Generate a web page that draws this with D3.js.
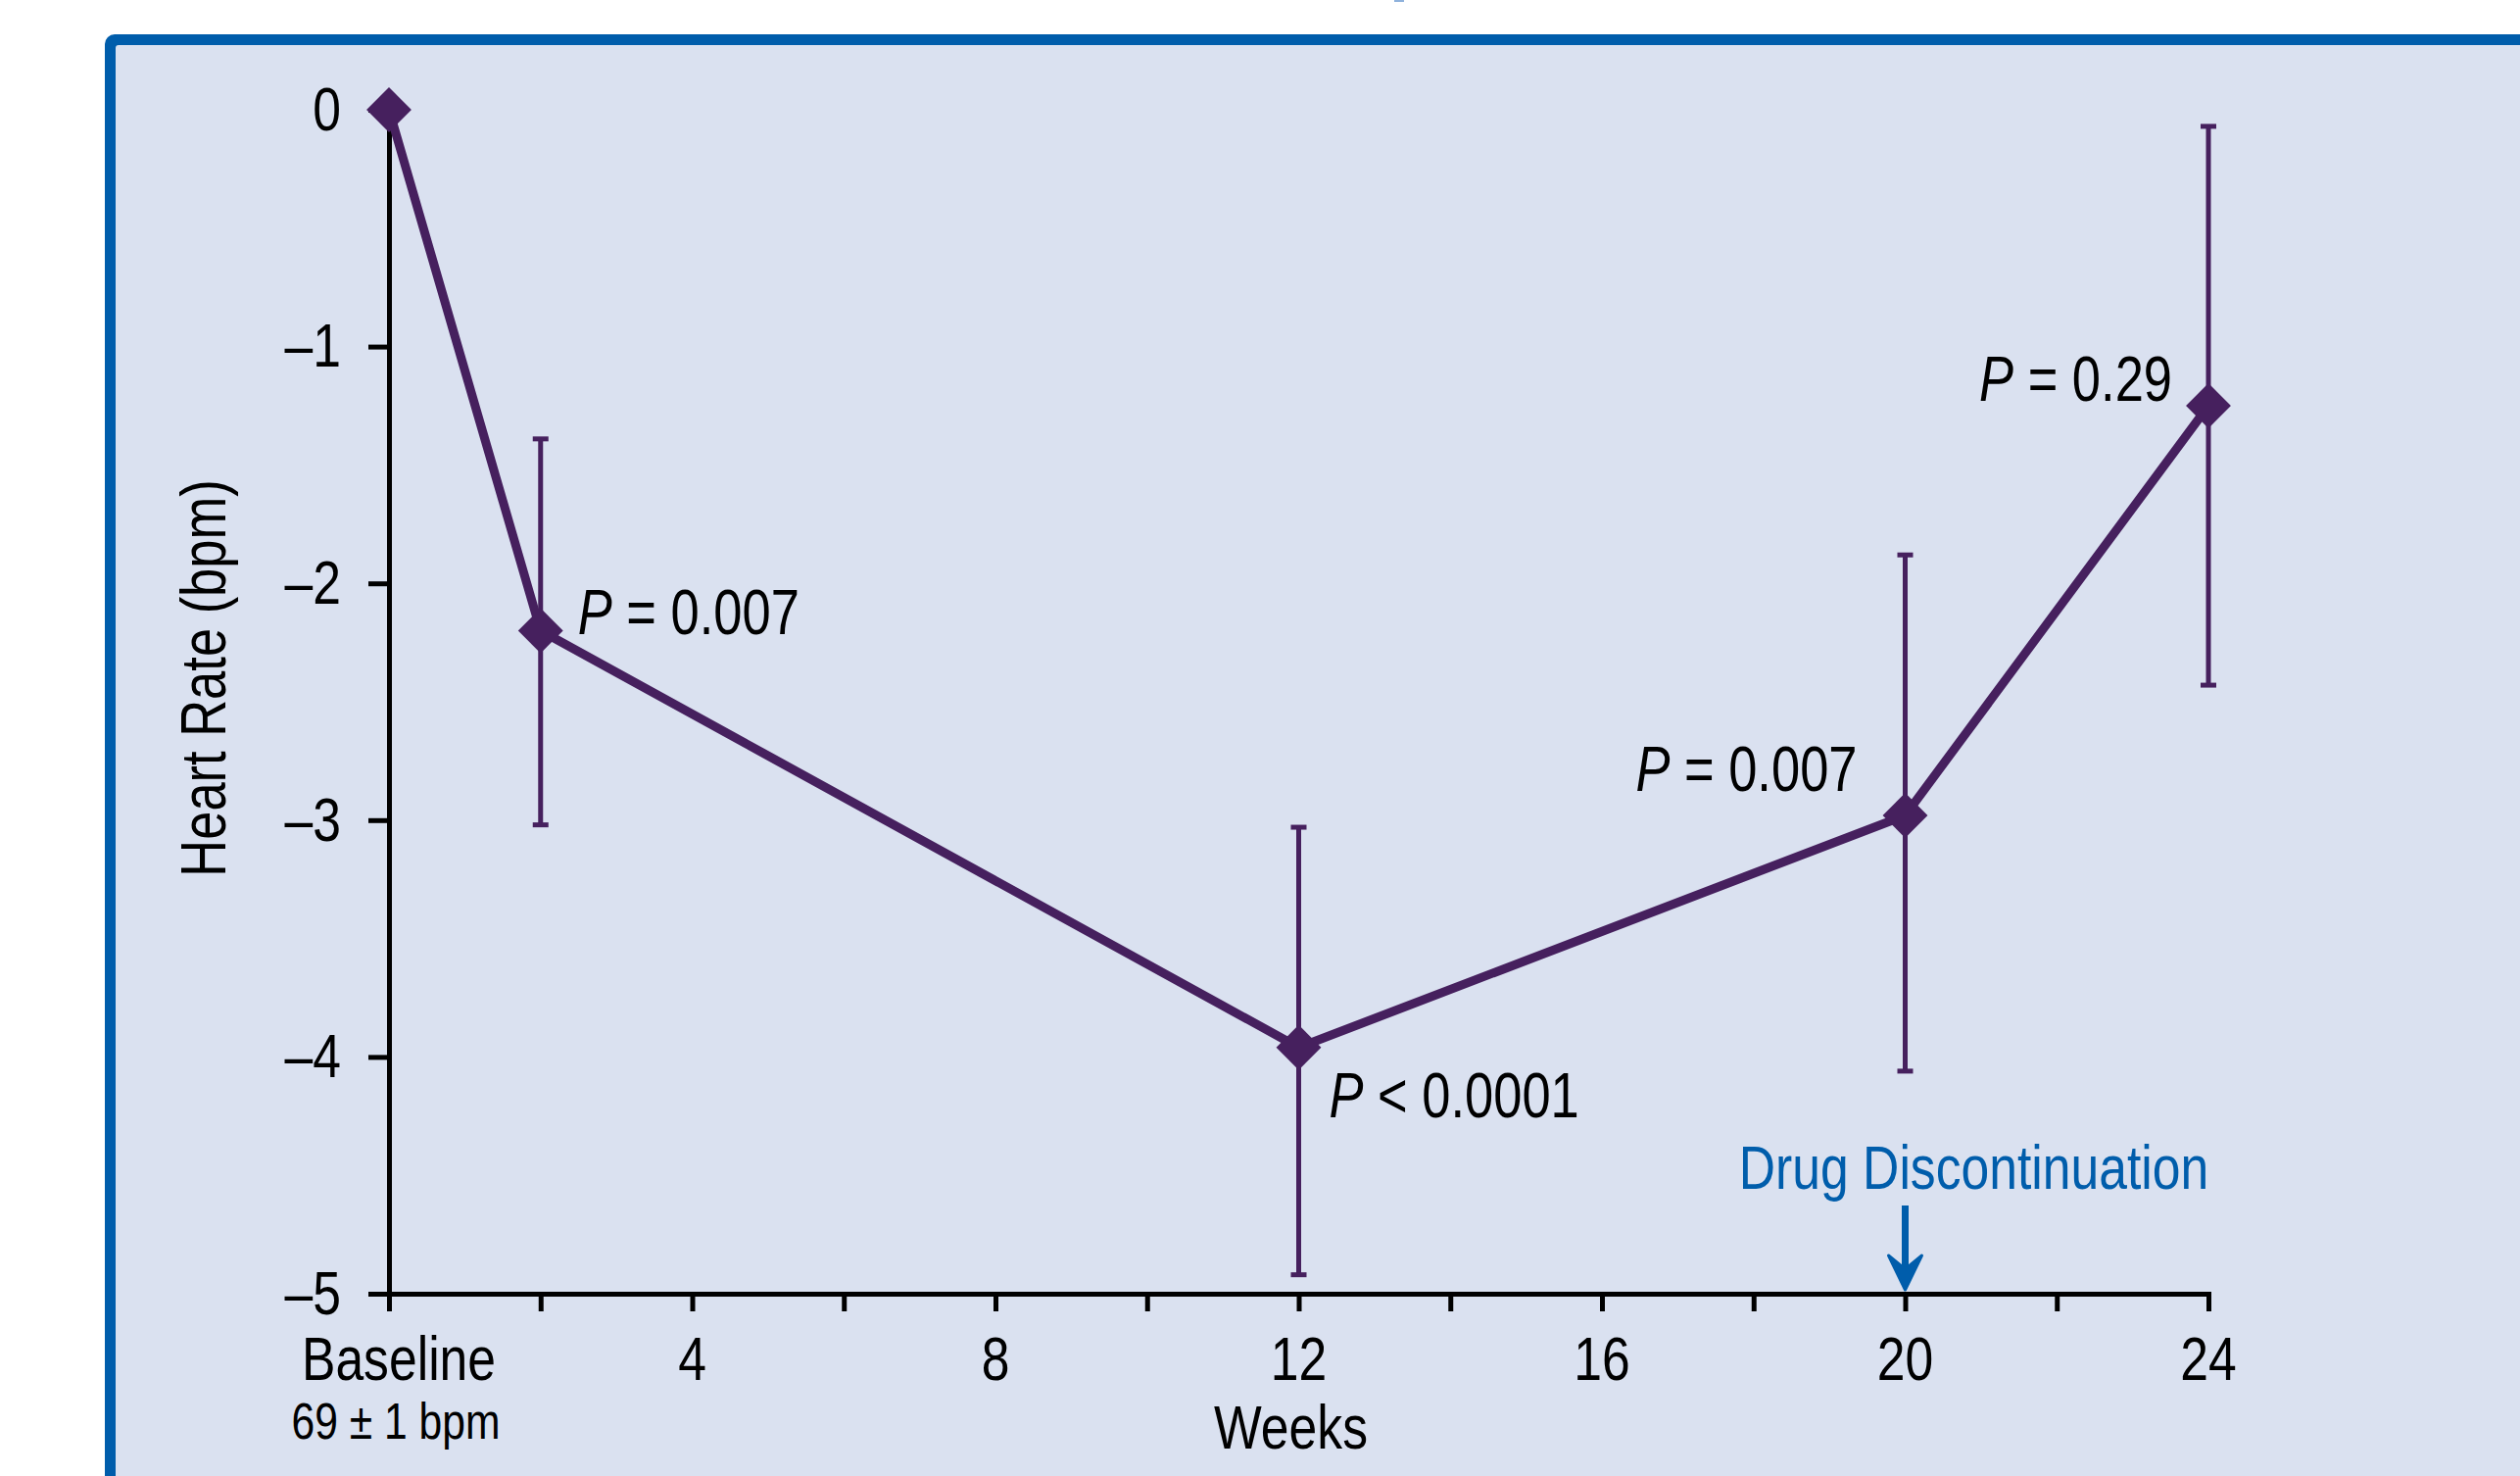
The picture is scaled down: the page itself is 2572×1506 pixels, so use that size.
<!DOCTYPE html>
<html>
<head>
<meta charset="utf-8">
<script src="https://cdn.jsdelivr.net/npm/d3@7/dist/d3.min.js"></script>
<style>
  html, body { margin: 0; padding: 0; background: #ffffff; }
  svg { display: block; }
</style>
</head>
<body>
<svg id="chart" width="2572" height="1506"></svg>
<script>
// Mean change in heart rate from baseline (bpm) by study week
const weeks = [0, 2, 12, 20, 24];
const hrChange = [0, -2.20, -3.96, -2.98, -1.25];
// Error bar extents (bpm); baseline has none
const errLow = [null, -3.02, -4.92, -4.06, -2.43];
const errHigh = [null, -1.39, -3.03, -1.88, -0.07];
// Significance versus baseline
const pLabels = ["", "P = 0.007", "P < 0.0001", "P = 0.007", "P = 0.29"];

// Axis ticks
const xTickValues = [0, 2, 4, 6, 8, 10, 12, 14, 16, 18, 20, 22, 24];
const xTickLabels = ["Baseline", "", "4", "", "8", "", "12", "", "16", "", "20", "", "24"];
const yTickValues = [0, -1, -2, -3, -4, -5];
const yTickLabels = ["0", "\u20131", "\u20132", "\u20133", "\u20134", "\u20135"];

const baselineNote = "69 \u00b1 1 bpm";
const xTitle = "Weeks";
const yTitle = "Heart Rate (bpm)";
const eventWeek = 20;
const eventLabel = "Drug Discontinuation";

// ---- styling ----
const PURPLE = "#46205e";
const BLUE = "#005dab";
const PANEL = "#dae1f0";

// Narrow sans if present, otherwise compress the regular face horizontally
function fontAvailable(name) {
  const ctx = document.createElement("canvas").getContext("2d");
  const probe = "abcdefghijklmnopqrstuvwxyzWM0123456789";
  ctx.font = "72px monospace";
  const a = ctx.measureText(probe).width;
  ctx.font = `72px "${name}", monospace`;
  const b = ctx.measureText(probe).width;
  return Math.abs(a - b) > 0.5;
}
const narrow = fontAvailable("Liberation Sans Narrow");
const FONT = narrow ? "'Liberation Sans Narrow', 'Liberation Sans', Arial, sans-serif"
                    : "'Liberation Sans', Arial, sans-serif";
const SX = narrow ? 1 : 0.82;

const svg = d3.select("#chart");

// text helper: anchored at (x, y), optional rotation, condensed if needed
function label(parent, x, y, str, opts = {}) {
  const rot = opts.rotate ? ` rotate(${opts.rotate})` : "";
  const t = parent.append("text")
    .attr("transform", `translate(${x},${y})${rot} scale(${SX},1)`)
    .attr("font-family", FONT)
    .attr("font-size", opts.size || 63)
    .attr("fill", opts.fill || "#000")
    .attr("text-anchor", opts.anchor || "middle");
  if (opts.dy) t.attr("dy", opts.dy);
  if (opts.italicFirst) {
    t.append("tspan").attr("font-style", "italic").text(str.slice(0, 1));
    t.append("tspan").text(str.slice(1));
  } else {
    t.text(str);
  }
  return t;
}

// ---- panel frame ----
svg.append("rect").attr("x", 1423).attr("y", 0).attr("width", 10).attr("height", 2)
  .attr("fill", "#8fb2dc");
svg.append("rect")
  .attr("x", 107).attr("y", 35).attr("width", 2600).attr("height", 1600)
  .attr("rx", 10).attr("fill", BLUE);
svg.append("rect")
  .attr("x", 118).attr("y", 46).attr("width", 2600).attr("height", 1600)
  .attr("rx", 3).attr("fill", PANEL);

// ---- scales ----
const x = d3.scaleLinear().domain([0, 24]).range([397, 2254]);
const y = d3.scaleLinear().domain([-5, 0]).range([1320, 112]);

const g = svg.append("g");

// ---- axes ----
const yAxis = d3.axisLeft(y).tickValues(yTickValues).tickFormat("")
  .tickSize(21).tickSizeOuter(0);
const yG = g.append("g").attr("transform", `translate(${x(0)},0)`).call(yAxis);

const xAxis = d3.axisBottom(x).tickValues(xTickValues).tickFormat("")
  .tickSize(18).tickSizeOuter(0);
const xG = g.append("g").attr("transform", `translate(0,${y(-5)})`).call(xAxis);

[yG, xG].forEach(ax => {
  ax.select(".domain").attr("stroke", "#000").attr("stroke-width", 5)
    .attr("stroke-linecap", "square");
  ax.selectAll(".tick line").attr("stroke", "#000").attr("stroke-width", 5);
});

// y tick labels
yTickValues.forEach((v, i) => {
  label(g, x(0) - 49, y(v), yTickLabels[i], { anchor: "end", dy: "0.33em" });
});
// x tick labels
xTickValues.forEach((v, i) => {
  if (!xTickLabels[i]) return;
  const off = i === 0 ? 10 : 0;
  label(g, x(v) + off, y(-5) + 88, xTickLabels[i]);
});
label(g, x(0) + 7, y(-5) + 148, baselineNote, { size: 52 });

// axis titles
label(g, (x(0) + x(24)) / 2 - 8, y(-5) + 158, xTitle);
label(g, 230, 692, yTitle, { rotate: -90, size: 64 });

// ---- data ----
const pts = weeks.map((w, i) => ({
  w, v: hrChange[i], lo: errLow[i], hi: errHigh[i], p: pLabels[i]
}));

// error bars
const eb = g.append("g").attr("stroke", PURPLE).attr("stroke-width", 5).attr("fill", "none");
pts.filter(d => d.lo !== null).forEach(d => {
  eb.append("line").attr("x1", x(d.w)).attr("x2", x(d.w)).attr("y1", y(d.hi)).attr("y2", y(d.lo));
  eb.append("line").attr("x1", x(d.w) - 8).attr("x2", x(d.w) + 8).attr("y1", y(d.hi)).attr("y2", y(d.hi));
  eb.append("line").attr("x1", x(d.w) - 8).attr("x2", x(d.w) + 8).attr("y1", y(d.lo)).attr("y2", y(d.lo));
});

// connecting line
g.append("path")
  .datum(pts)
  .attr("fill", "none")
  .attr("stroke", PURPLE)
  .attr("stroke-width", 9)
  .attr("stroke-linejoin", "round")
  .attr("d", d3.line().x(d => x(d.w)).y(d => y(d.v)));

// diamond markers
const diamond = d3.symbol().type(d3.symbolSquare).size(1050);
g.selectAll("path.marker")
  .data(pts)
  .join("path")
  .attr("class", "marker")
  .attr("d", diamond)
  .attr("fill", PURPLE)
  .attr("transform", d => `translate(${x(d.w)},${y(d.v)}) rotate(45)`);

// P-value annotations
const pPlace = [null,
  { dx: 38, dy: 3, anchor: "start" },
  { dx: 31, dy: 71, anchor: "start" },
  { dx: -49, dy: -25, anchor: "end" },
  { dx: -37, dy: -5, anchor: "end" }];
pts.forEach((d, i) => {
  if (!d.p) return;
  const pl = pPlace[i];
  label(g, x(d.w) + pl.dx, y(d.v) + pl.dy, d.p, { anchor: pl.anchor, size: 64, italicFirst: true });
});

// drug discontinuation marker
const ex = x(eventWeek);
label(g, ex + 70, 1213, eventLabel, { fill: BLUE, size: 63 });
g.append("line")
  .attr("x1", ex).attr("x2", ex).attr("y1", 1230).attr("y2", 1300)
  .attr("stroke", BLUE).attr("stroke-width", 7);
g.append("path")
  .attr("d", `M${ex - 17},${1281} L${ex},${1316} L${ex + 17},${1281} L${ex},${1295} Z`)
  .attr("fill", BLUE).attr("stroke", BLUE).attr("stroke-width", 3)
  .attr("stroke-linejoin", "round");
</script>
</body>
</html>
